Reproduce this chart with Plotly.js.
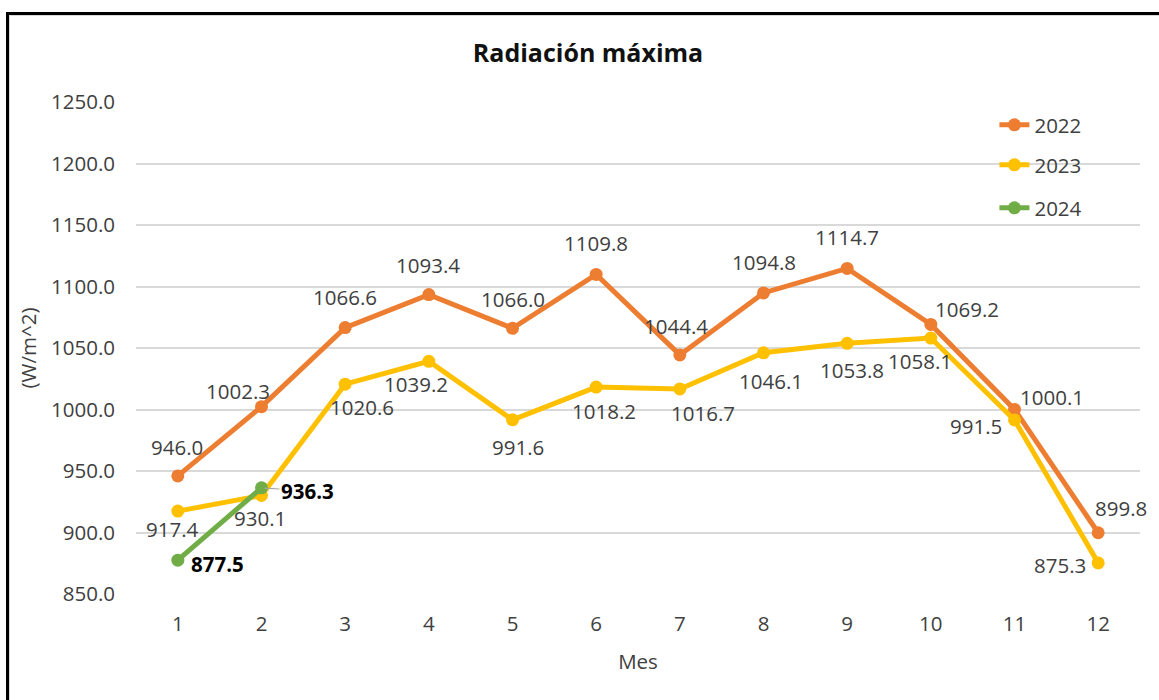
<!DOCTYPE html>
<html>
<head>
<meta charset="utf-8">
<script src="https://cdn.plot.ly/plotly-3.0.1.min.js"></script>
<style>
  html, body { margin: 0; padding: 0; background: #fff; overflow: hidden; }
  #chart { position: absolute; left: 0; top: 0; width: 1159px; height: 700px; }
  #frame { position: absolute; left: 6px; top: 12px; width: 1300px; height: 900px;
           border-left: 3px solid #000; border-top: 3px solid #000; pointer-events: none;
           box-shadow: inset 1px 1px 0 #d9d9d9; }
</style>
</head>
<body>
<div id="chart"></div>
<div id="frame"></div>
<script>
// ---- data ----
const months = [1, 2, 3, 4, 5, 6, 7, 8, 9, 10, 11, 12];
const monthLabels = ['1', '2', '3', '4', '5', '6', '7', '8', '9', '10', '11', '12'];
const seriesNames = ['2022', '2023', '2024'];
const rad2022 = [946.0, 1002.3, 1066.6, 1093.4, 1066.0, 1109.8, 1044.4, 1094.8, 1114.7, 1069.2, 1000.1, 899.8];
const rad2023 = [917.4, 930.1, 1020.6, 1039.2, 991.6, 1018.2, 1016.7, 1046.1, 1053.8, 1058.1, 991.5, 875.3];
const rad2024 = [877.5, 936.3];

// ---- label placement (style only, pixel offsets from each marker) ----
const off2022 = [[-1,-29],[-24,-16],[0,-31],[-1,-30],[0,-29],[0,-31],[-4,-29],[0,-31],[0,-31],[36,-15],[37,-12],[23,-25]];
const off2023 = [[-5,18],[-2,23],[17,23],[-13,23],[5,27],[8,24],[23,24],[7,28],[5,27],[-11,23],[-39,6],[-38,2]];
const off2024 = [[40,4],[46,3]];

const colors = ['#ED7D31', '#FFC000', '#70AD47'];
const FONT = 'Open Sans, Noto Sans, sans-serif';
const labelColor = '#404040';
const FS = 20.5;

const allSeries = [rad2022, rad2023, rad2024];
const allOffsets = [off2022, off2023, off2024];
const legendIds = ['legend', 'legend2', 'legend3'];

const traces = allSeries.map((vals, i) => ({
  type: 'scatter',
  mode: 'lines+markers',
  name: seriesNames[i],
  x: months.slice(0, vals.length),
  y: vals,
  line: { color: colors[i], width: 5 },
  marker: { color: colors[i], size: 13 },
  hoverinfo: 'skip',
  legend: legendIds[i]
}));

const annotations = [];
allSeries.forEach((vals, i) => {
  vals.forEach((v, j) => {
    const o = allOffsets[i][j];
    const bold = (i === 2);
    const a = {
      x: months[j], y: v, xref: 'x', yref: 'y',
      text: bold ? '<b>' + v.toFixed(1) + '</b>' : v.toFixed(1),
      showarrow: false,
      xshift: o[0], yshift: -o[1],
      font: { family: FONT, size: FS, color: bold ? '#000000' : labelColor },
      xanchor: 'center', yanchor: 'middle'
    };
    if (bold && j === 1) {
      a.showarrow = true;
      a.arrowhead = 0;
      a.arrowwidth = 1.2;
      a.arrowcolor = '#A6A6A6';
      a.ax = o[0];
      a.ay = o[1];
      a.standoff = 3;
      a.xshift = 0;
      a.yshift = 0;
    }
    annotations.push(a);
  });
});

const legendBase = {
  x: 0.855, xanchor: 'left', yanchor: 'middle',
  bgcolor: 'rgba(0,0,0,0)', borderwidth: 0,
  font: { family: FONT, size: FS, color: labelColor },
  itemwidth: 30
};

const layout = {
  width: 1159, height: 700,
  margin: { l: 136, r: 19, t: 102, b: 106, pad: 0 },
  paper_bgcolor: '#ffffff', plot_bgcolor: '#ffffff',
  font: { family: FONT, color: labelColor },
  title: {
    text: 'Radiación máxima',
    font: { family: FONT, size: 25, color: '#111111', weight: 'bold' },
    x: 588 / 1159, xref: 'container', xanchor: 'center',
    y: 1 - 53 / 700, yref: 'container', yanchor: 'middle'
  },
  xaxis: {
    range: [0.5, 12.5],
    tickmode: 'array', tickvals: months, ticktext: monthLabels,
    showgrid: false, zeroline: false, showline: false,
    ticks: '', ticklabelstandoff: 15,
    tickfont: { family: FONT, size: FS, color: labelColor },
    title: { text: 'Mes', standoff: 19, font: { family: FONT, size: FS, color: labelColor } },
    fixedrange: true
  },
  yaxis: {
    range: [850, 1250], dtick: 50, tick0: 850, tickformat: '.1f',
    showgrid: true, gridcolor: '#D9D9D9', gridwidth: 2,
    zeroline: false, showline: false, ticks: '', ticklabelstandoff: 20,
    tickfont: { family: FONT, size: FS, color: labelColor },
    title: { text: '(W/m^2)', standoff: 8, font: { family: FONT, size: FS, color: labelColor } },
    fixedrange: true
  },
  showlegend: true,
  legend: Object.assign({}, legendBase, { y: (594 - 125) / 492 }),
  legend2: Object.assign({}, legendBase, { y: (594 - 165) / 492 }),
  legend3: Object.assign({}, legendBase, { y: (594 - 208) / 492 }),
  annotations: annotations
};

Plotly.newPlot('chart', traces, layout, { displayModeBar: false, staticPlot: true });
</script>
</body>
</html>
